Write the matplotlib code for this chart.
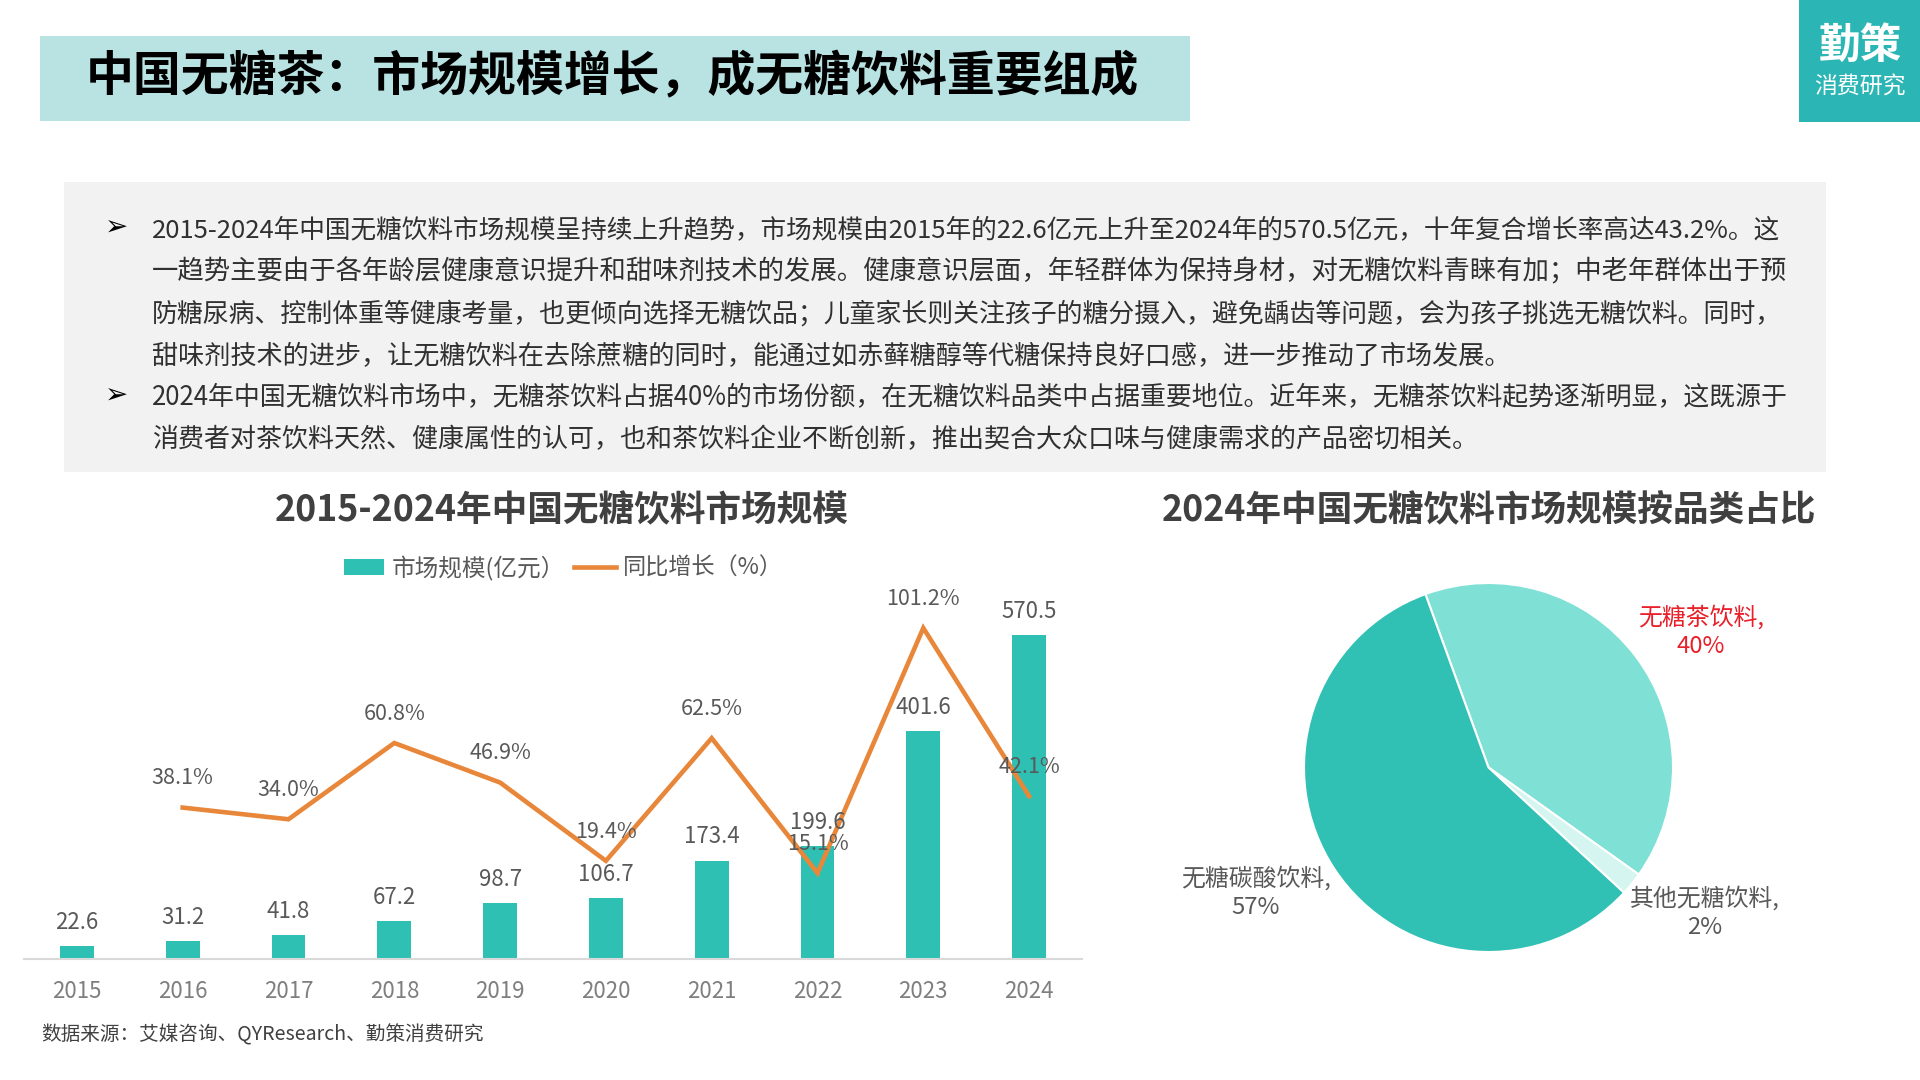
# -*- coding: utf-8 -*-
import matplotlib
matplotlib.use('Agg')
import matplotlib.pyplot as plt
from matplotlib.patches import Rectangle
from matplotlib.lines import Line2D

plt.rcParams['font.family'] = ['Noto Sans CJK SC', 'DejaVu Sans']

# chart data
years = ['2015', '2016', '2017', '2018', '2019', '2020', '2021', '2022', '2023', '2024']
market_size = [22.6, 31.2, 41.8, 67.2, 98.7, 106.7, 173.4, 199.6, 401.6, 570.5]
growth = [None, 38.1, 34.0, 60.8, 46.9, 19.4, 62.5, 15.1, 101.2, 42.1]
pie_labels = ['无糖茶饮料,\n40%', '其他无糖饮料,\n2%', '无糖碳酸饮料,\n57%']
pie_shares = [40, 2, 57]

body_lines = [
    '2015-2024年中国无糖饮料市场规模呈持续上升趋势，市场规模由2015年的22.6亿元上升至2024年的570.5亿元，十年复合增长率高达43.2%。这',
    '一趋势主要由于各年龄层健康意识提升和甜味剂技术的发展。健康意识层面，年轻群体为保持身材，对无糖饮料青睐有加；中老年群体出于预',
    '防糖尿病、控制体重等健康考量，也更倾向选择无糖饮品；儿童家长则关注孩子的糖分摄入，避免龋齿等问题，会为孩子挑选无糖饮料。同时，',
    '甜味剂技术的进步，让无糖饮料在去除蔗糖的同时，能通过如赤藓糖醇等代糖保持良好口感，进一步推动了市场发展。',
    '2024年中国无糖饮料市场中，无糖茶饮料占据40%的市场份额，在无糖饮料品类中占据重要地位。近年来，无糖茶饮料起势逐渐明显，这既源于',
    '消费者对茶饮料天然、健康属性的认可，也和茶饮料企业不断创新，推出契合大众口味与健康需求的产品密切相关。',
]
body_y = [230, 272, 314.5, 356.5, 398, 440]
# original is justified, so each line gets its own size
body_size = [18.48, 19.0, 18.67, 18.8, 18.63, 18.73]

teal = '#2FC0B4'
orange = '#E8873A'
gray = '#595959'
W, H = 1920, 1080


def px_axes(x0, y0, x1, y1):
    # axes from pixel box, y measured from the top
    return fig.add_axes([x0 / W, 1 - y1 / H, (x1 - x0) / W, (y1 - y0) / H])


fig = plt.figure(figsize=(19.2, 10.8), dpi=100)

# page furniture, drawn in pixel coordinates
bg = fig.add_axes([0, 0, 1, 1])
bg.set_xlim(0, W)
bg.set_ylim(H, 0)
bg.axis('off')
bg.add_patch(Rectangle((40, 35.5), 1150, 85, color='#B9E2E2', lw=0))
bg.add_patch(Rectangle((1799, 0), 121, 122, color='#2CB5B5', lw=0))
bg.add_patch(Rectangle((64, 182), 1762, 290, color='#F2F2F2', lw=0))

bg.text(86, 76.5, '中国无糖茶：市场规模增长，成无糖饮料重要组成', fontsize=34.5, fontweight='bold',
        color='black', va='center')
bg.text(1860, 45.5, '勤策', fontsize=30, fontweight='bold', color='white', ha='center', va='center')
bg.text(1860, 87, '消费研究', fontsize=16.5, color='white', ha='center', va='center')

for txt, y, size in zip(body_lines, body_y, body_size):
    bg.text(152, y, txt, fontsize=size, color='#303030', va='center')
bg.text(117, 228, '➢', fontsize=20, color='black', ha='center', va='center')
bg.text(117, 396, '➢', fontsize=20, color='black', ha='center', va='center')

bg.text(561.5, 510.5, '2015-2024年中国无糖饮料市场规模', fontsize=25.7, fontweight='bold', color='#404040',
        ha='center', va='center')
bg.text(1488.5, 510.5, '2024年中国无糖饮料市场规模按品类占比', fontsize=25.7, fontweight='bold', color='#404040',
        ha='center', va='center')

# legend by hand so it sits where the original has it
bg.add_patch(Rectangle((344, 559), 40, 16, color=teal, lw=0))
bg.text(392, 568.5, '市场规模(亿元）', fontsize=17, color=gray, va='center')
bg.add_line(Line2D([574, 616], [567, 567], color=orange, lw=3.3))
bg.text(623, 568.5, '同比增长（%）', fontsize=16.7, color=gray, va='center')

bg.text(41, 1034.5, '数据来源：艾媒咨询、QYResearch、勤策消费研究', fontsize=14.1, color='#404040', va='center')

# bars + line
ax = px_axes(24, 560, 1082, 959)
ax.patch.set_visible(False)
xs = list(range(len(years)))
ax.bar(xs, market_size, width=0.318, color=teal)
ax.set_xlim(-0.5, 9.5)
ax.set_ylim(0, 703)
ax.set_xticks(xs)
ax.set_xticklabels(years, fontsize=16, color='#7F7F7F')
ax.tick_params(axis='x', length=0, pad=15)
ax.set_yticks([])
for s in ['top', 'right', 'left']:
    ax.spines[s].set_visible(False)
ax.spines['bottom'].set_color('#D9D9D9')
ax.spines['bottom'].set_linewidth(1.5)

ax2 = ax.twinx()
ax2.patch.set_visible(False)
ax2.plot(xs[1:], growth[1:], color=orange, lw=3.3, solid_joinstyle='miter')
ax2.set_ylim(-15.1, 125.1)
ax2.set_yticks([])
for s in ax2.spines.values():
    s.set_visible(False)

for i, v in enumerate(market_size):
    ax2.annotate(str(v), xy=(i, v), xycoords=ax.transData, xytext=(0, 17), textcoords='offset points',
                 fontsize=16, color=gray, ha='center', va='center', annotation_clip=False)
for i, v in zip(xs[1:], growth[1:]):
    ax2.annotate('%.1f%%' % v, xy=(i, v), xytext=(0, 21), textcoords='offset points',
                 fontsize=15.5, color=gray, ha='center', va='center', annotation_clip=False)

# pie
pie_ax = px_axes(1304, 583, 1673, 952)
pie_ax.pie(pie_shares, colors=['#7FE0D6', '#D4F5F0', '#31C0B4'], startangle=110, counterclock=False,
           wedgeprops={'edgecolor': 'white', 'linewidth': 1.5})
pie_ax.set_xlim(-1, 1)
pie_ax.set_ylim(-1, 1)

bg.text(1701, 631.5, pie_labels[0], fontsize=17.2, color='#E8202A', ha='center', va='center', linespacing=1.3)
bg.text(1705, 912.5, pie_labels[1], fontsize=17.2, color=gray, ha='center', va='center', linespacing=1.3)
bg.text(1256, 892.5, pie_labels[2], fontsize=17.2, color=gray, ha='center', va='center', linespacing=1.3)

fig.savefig('out.png', dpi=100)
